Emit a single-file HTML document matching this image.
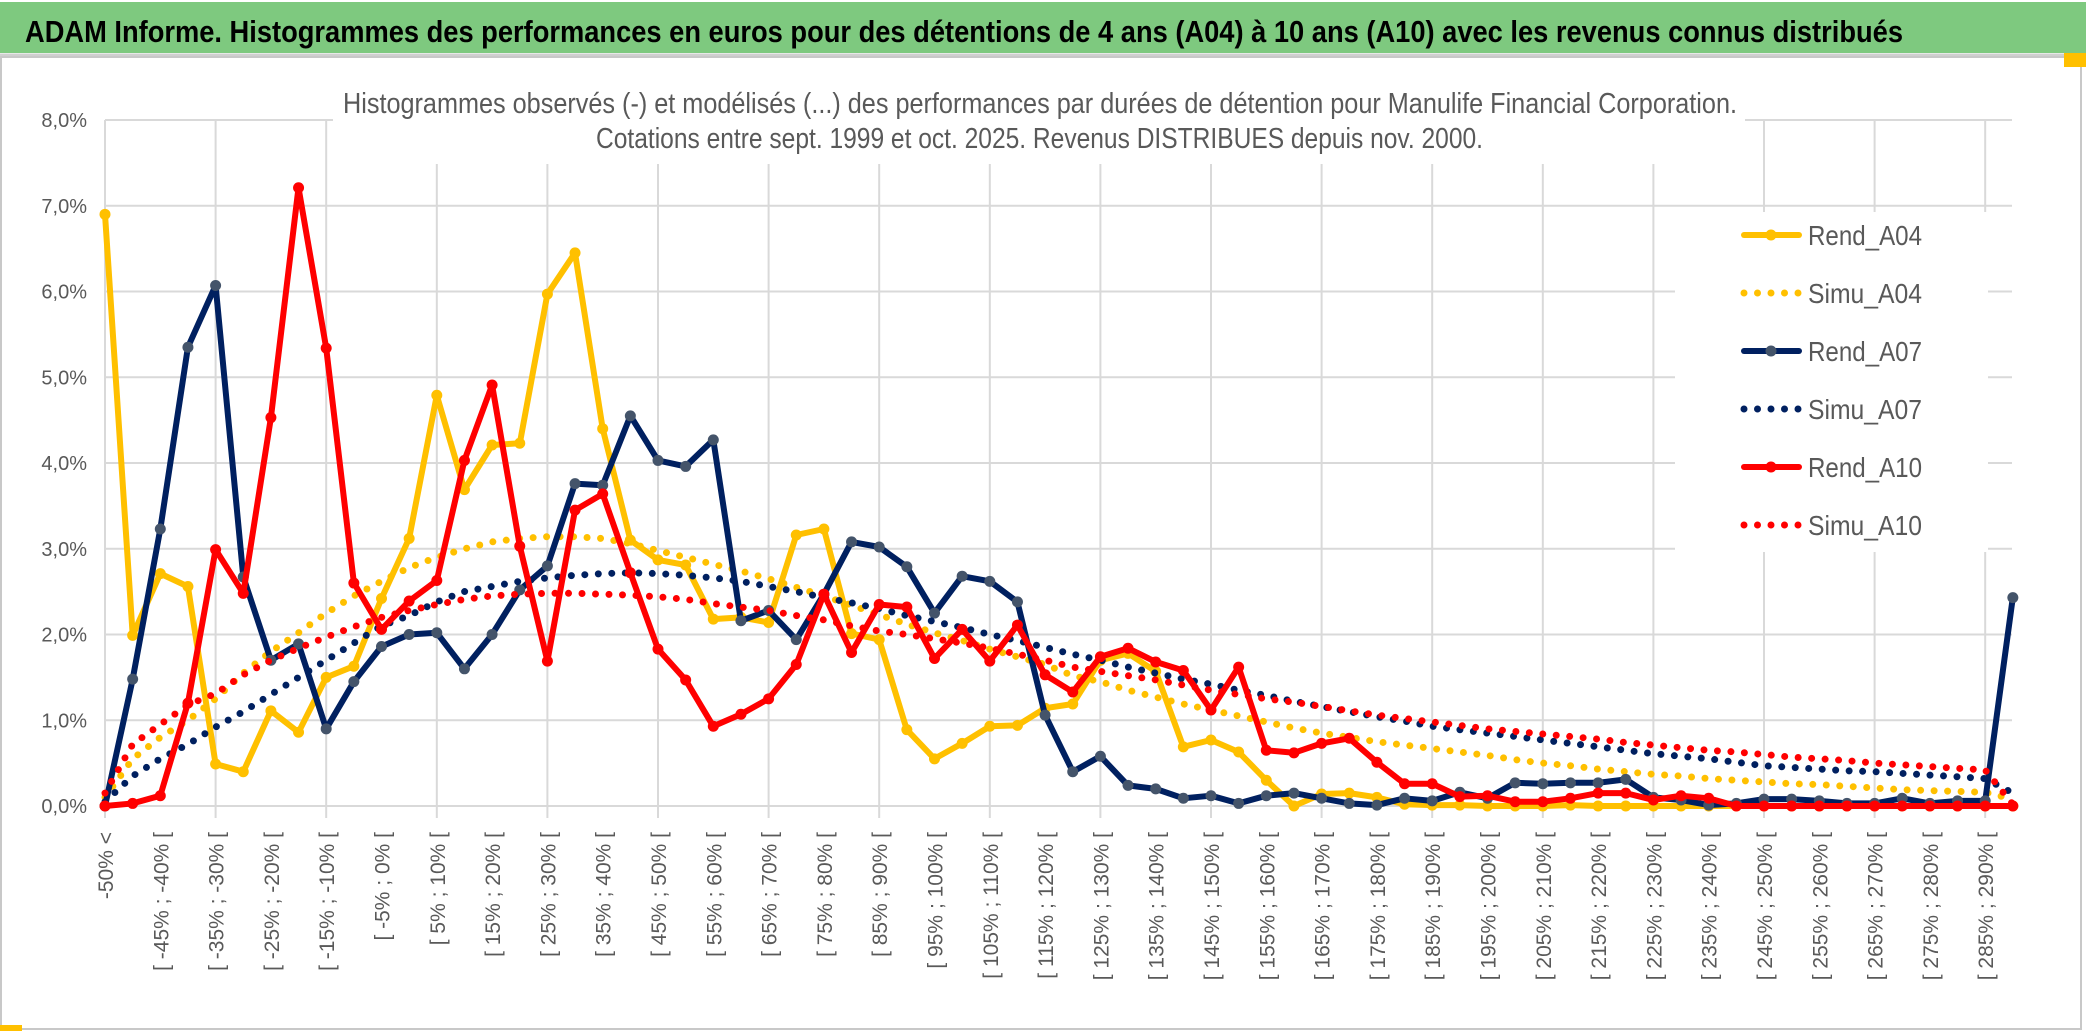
<!DOCTYPE html>
<html><head><meta charset="utf-8"><title>ADAM Informe - Manulife</title>
<style>
html,body{margin:0;padding:0;background:#fff;}
body{width:2086px;height:1033px;overflow:hidden;font-family:"Liberation Sans",sans-serif;}
svg{display:block;}
</style></head>
<body>
<svg id="chart" width="2086" height="1033" viewBox="0 0 2086 1033" xmlns="http://www.w3.org/2000/svg">
  <rect x="0" y="0" width="2086" height="1033" fill="#fff"/>
  <rect x="0" y="2" width="2086" height="51" fill="#7ec97f"/>
  <line x1="0" y1="55" x2="2086" y2="55" stroke="#d0d0d0" stroke-width="3"/>
  <text x="25" y="42" font-family="Liberation Sans, sans-serif" font-weight="bold" font-size="31" fill="#000" textLength="1878" lengthAdjust="spacingAndGlyphs">ADAM Informe. Histogrammes des performances en euros pour des détentions de 4 ans (A04) à 10 ans (A10) avec les revenus connus distribués</text>
  <rect x="1" y="57" width="2080" height="972" fill="none" stroke="#c8c8c8" stroke-width="2"/>
  <rect x="2064" y="53" width="22" height="14" fill="#ffc000"/>
  <rect x="0" y="1025" width="22" height="6" fill="#ffc000"/>
  <g id="grid"></g>
  <rect x="333" y="60" width="1412" height="104" fill="#fff"/>
  <text x="343" y="113" font-family="Liberation Sans, sans-serif" font-size="29" fill="#595959" textLength="1394" lengthAdjust="spacingAndGlyphs">Histogrammes observés (-) et modélisés (...) des performances par durées de détention pour Manulife Financial Corporation.</text>
  <text x="596" y="148" font-family="Liberation Sans, sans-serif" font-size="29" fill="#595959" textLength="887" lengthAdjust="spacingAndGlyphs">Cotations entre sept. 1999 et oct. 2025. Revenus DISTRIBUES depuis nov. 2000.</text>
  <rect x="1675" y="212" width="313" height="340" fill="#fff"/>
  <g id="yaxis"></g>
  <g id="xaxis"></g>
  <g id="series"></g>
  <g id="legend"></g>
</svg>
<script>
const yTicks = [0,1,2,3,4,5,6,7,8];
const yTickLabels = ["0,0%","1,0%","2,0%","3,0%","4,0%","5,0%","6,0%","7,0%","8,0%"];
const categories = ["-50% <"];
for (let k = 1; k < 70; k++) { categories.push("[ " + (-50 + 5*(k-1)) + "% ; " + (-45 + 5*(k-1)) + "% ["); }
const rendA04 = [6.9,1.99,2.71,2.56,0.49,0.40,1.11,0.86,1.50,1.63,2.42,3.12,4.79,3.69,4.21,4.23,5.97,6.45,4.40,3.10,2.87,2.81,2.18,2.20,2.14,3.16,3.23,2.01,1.94,0.89,0.55,0.73,0.93,0.94,1.14,1.19,1.70,1.78,1.57,0.69,0.77,0.63,0.30,0.0,0.14,0.15,0.10,0.02,0.01,0.01,0,0,0,0.01,0,0,0,0,0,0,0,0,0,0,0,0,0,0,0,0];
const simuA04 = [0.1,0.55,0.8,1.0,1.25,1.55,1.8,2.02,2.25,2.45,2.62,2.78,2.9,3.0,3.08,3.12,3.14,3.14,3.12,3.06,2.98,2.9,2.82,2.74,2.65,2.55,2.45,2.34,2.23,2.12,2.02,1.93,1.83,1.74,1.65,1.52,1.45,1.35,1.27,1.19,1.12,1.05,0.98,0.91,0.85,0.80,0.75,0.71,0.67,0.63,0.59,0.54,0.50,0.47,0.43,0.40,0.37,0.35,0.32,0.30,0.28,0.26,0.25,0.23,0.21,0.19,0.18,0.17,0.16,0.08];
const rendA07 = [0,1.48,3.23,5.35,6.07,2.67,1.70,1.89,0.90,1.45,1.86,2.0,2.02,1.60,2.0,2.52,2.80,3.76,3.74,4.55,4.03,3.96,4.27,2.16,2.28,1.94,2.47,3.08,3.02,2.79,2.25,2.68,2.62,2.38,1.06,0.40,0.58,0.24,0.20,0.09,0.12,0.03,0.12,0.15,0.09,0.03,0.01,0.09,0.06,0.16,0.09,0.27,0.26,0.27,0.27,0.31,0.10,0.07,0.01,0.03,0.08,0.08,0.06,0.03,0.03,0.09,0.03,0.06,0.06,2.43];
const simuA07 = [0.05,0.35,0.55,0.72,0.92,1.1,1.3,1.5,1.7,1.9,2.1,2.22,2.38,2.5,2.56,2.62,2.66,2.69,2.71,2.72,2.71,2.69,2.66,2.62,2.56,2.5,2.43,2.37,2.3,2.22,2.15,2.08,2.0,1.93,1.85,1.77,1.70,1.62,1.55,1.48,1.42,1.35,1.29,1.22,1.16,1.10,1.04,0.99,0.93,0.89,0.85,0.81,0.77,0.73,0.69,0.65,0.61,0.58,0.55,0.51,0.47,0.45,0.43,0.41,0.40,0.38,0.36,0.34,0.32,0.15];
const rendA10 = [0,0.03,0.12,1.2,2.99,2.48,4.53,7.21,5.34,2.6,2.06,2.39,2.63,4.03,4.91,3.03,1.69,3.45,3.64,2.72,1.83,1.47,0.93,1.07,1.25,1.65,2.47,1.79,2.35,2.32,1.72,2.06,1.69,2.11,1.53,1.33,1.74,1.84,1.68,1.58,1.12,1.62,0.65,0.62,0.73,0.79,0.51,0.26,0.26,0.11,0.12,0.05,0.05,0.09,0.15,0.15,0.07,0.12,0.09,0,0,0,0,0,0,0,0,0,0,0];
const simuA10 = [0.15,0.72,0.95,1.18,1.31,1.53,1.7,1.84,1.97,2.09,2.2,2.28,2.35,2.41,2.45,2.47,2.48,2.48,2.47,2.46,2.44,2.41,2.36,2.32,2.28,2.22,2.17,2.1,2.04,2.0,1.95,1.9,1.84,1.77,1.7,1.62,1.57,1.52,1.47,1.41,1.35,1.3,1.25,1.21,1.16,1.11,1.06,1.02,0.98,0.94,0.9,0.87,0.84,0.81,0.78,0.74,0.71,0.68,0.65,0.63,0.6,0.57,0.55,0.53,0.5,0.48,0.46,0.44,0.42,0.02];
const seriesNames = ["Rend_A04","Simu_A04","Rend_A07","Simu_A07","Rend_A10","Simu_A10"];

const NS = "http://www.w3.org/2000/svg";
const X0 = 105, DX = 27.65, Y0 = 806, DY = 85.75;
function xScale(i){ return X0 + i*DX; }
function yScale(v){ return Y0 - v*DY; }
function mk(tag, attrs, parent){ const e = document.createElementNS(NS, tag); for (const k in attrs) e.setAttribute(k, attrs[k]); parent.appendChild(e); return e; }

const grid = document.getElementById('grid');
yTicks.forEach(function(t){
  const l = mk('line', {x1:X0, x2:2012, y1:yScale(t), y2:yScale(t), stroke:'#d9d9d9', 'stroke-width':2}, grid);
  
  
});
for (let i = 0; i < categories.length; i += 4) {
  const l = mk('line', {x1:xScale(i), x2:xScale(i), y1:yScale(8), y2:Y0+12, stroke:'#d9d9d9', 'stroke-width':2}, grid);
  
  
}

const yaxis = document.getElementById('yaxis');
yTicks.forEach(function(t, k){
  const tx = mk('text', {x:87, y:yScale(t)+7, 'text-anchor':'end', 'font-size':20, fill:'#595959', 'font-family':'Liberation Sans, sans-serif'}, yaxis);
  tx.textContent = yTickLabels[k];
  
  
});

const xaxis = document.getElementById('xaxis');
for (let i = 0; i < categories.length; i += 2) {
  const cx = xScale(i) + 8, cy = 832;
  const tx = mk('text', {x:cx, y:cy, 'text-anchor':'end', 'font-size':21, fill:'#595959', 'font-family':'Liberation Sans, sans-serif', transform:'rotate(-90 '+cx+' '+cy+')'}, xaxis);
  tx.textContent = categories[i];
  
  
}

const seriesG = document.getElementById('series');
function pts(arr){ return arr.map(function(v,i){ return xScale(i).toFixed(1)+','+yScale(v).toFixed(1); }).join(' '); }
function drawRend(arr, color, marker, name){
  const g = mk('g', {}, seriesG);
  
  
  const p = mk('polyline', {points:pts(arr), fill:'none', stroke:color, 'stroke-width':6, 'stroke-linejoin':'round', 'stroke-linecap':'round'}, g);
  
  
  arr.forEach(function(v,i){
    const c = mk('circle', {cx:xScale(i), cy:yScale(v), r:5.5, fill:marker}, g);
    
    
  });
}
function drawSimu(arr, color, name){
  const p = mk('polyline', {points:pts(arr), fill:'none', stroke:color, 'stroke-width':7, 'stroke-linecap':'round', 'stroke-dasharray':'0 13.5'}, seriesG);
  
  
}
drawRend(rendA04, '#ffc000', '#ffc000', 'rend-a04');
drawSimu(simuA04, '#ffc000', 'simu-a04');
drawRend(rendA07, '#002060', '#44546a', 'rend-a07');
drawSimu(simuA07, '#002060', 'simu-a07');
drawRend(rendA10, '#ff0000', '#ff0000', 'rend-a10');
drawSimu(simuA10, '#ff0000', 'simu-a10');

const legend = document.getElementById('legend');
const legColors = ['#ffc000','#ffc000','#002060','#002060','#ff0000','#ff0000'];
const legMarkers = ['#ffc000',null,'#44546a',null,'#ff0000',null];
seriesNames.forEach(function(nm, k){
  const y = 235 + k*58;
  const g = mk('g', {}, legend);
  
  
  if (legMarkers[k]) {
    mk('line', {x1:1744, x2:1799, y1:y, y2:y, stroke:legColors[k], 'stroke-width':6, 'stroke-linecap':'round'}, g);
    mk('circle', {cx:1771, cy:y, r:5.5, fill:legMarkers[k]}, g);
  } else {
    mk('line', {x1:1744, x2:1799, y1:y, y2:y, stroke:legColors[k], 'stroke-width':7, 'stroke-linecap':'round', 'stroke-dasharray':'0 13.5'}, g);
  }
  const t = mk('text', {x:1808, y:y+10, 'font-size':28, fill:'#595959', 'font-family':'Liberation Sans, sans-serif', textLength:114, lengthAdjust:'spacingAndGlyphs'}, g);
  t.textContent = nm;
});
</script>
</body></html>
